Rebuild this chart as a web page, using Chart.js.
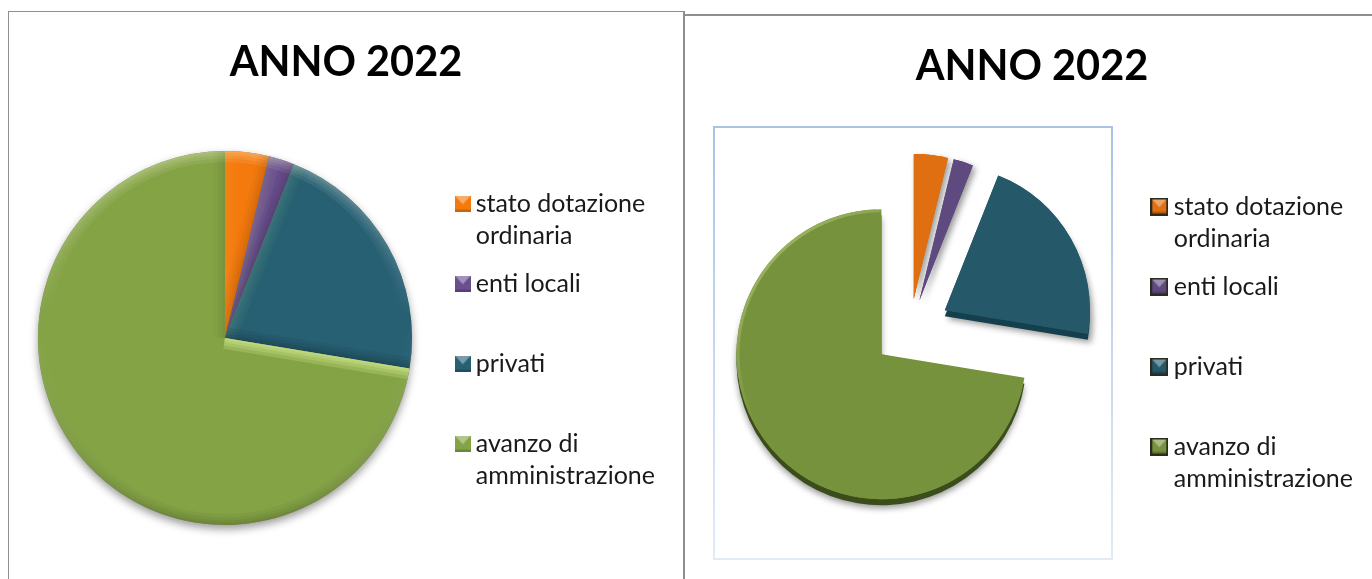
<!DOCTYPE html>
<html>
<head>
<meta charset="utf-8">
<title>ANNO 2022</title>
<script src="https://cdn.jsdelivr.net/npm/chart.js@4"></script>
<style>
  html, body { margin: 0; height: 100%; background: #fff; overflow: hidden; }
  canvas { position: absolute; }
  #left { left: 9px; top: 12px; }
  #right { left: 692px; top: 16px; }
  .rule { position: absolute; background: #8f8f8f; }
  #frame {
    position: absolute; left: 713px; top: 126px; width: 396px; height: 430px;
    border: 2px solid; border-image: linear-gradient(#a9c2e6, #e2eaf6) 1;
  }
</style>
</head>
<body>
<div class="rule" style="left:8px;top:11px;width:676px;height:1px"></div>
<div class="rule" style="left:8px;top:11px;width:1px;height:568px"></div>
<div class="rule" style="left:683px;top:11px;width:2px;height:568px"></div>
<div class="rule" style="left:685px;top:14px;width:687px;height:2px"></div>
<div id="frame"></div>
<canvas id="left" width="674" height="567"></canvas>
<canvas id="right" width="680" height="563"></canvas>
<script>
const titleText = 'ANNO 2022';
const categories = ['stato dotazione ordinaria', 'enti locali', 'privati', 'avanzo di amministrazione'];
const legendLines = [['stato dotazione', 'ordinaria'], ['enti locali', ''], ['privati', ''], ['avanzo di', 'amministrazione']];
const values = [3.8, 2.2, 21.6, 72.4];
const flatColors = ['#f57a0e', '#6a4f8f', '#276073', '#84a345'];
const explodedColors = ['#df6f10', '#5f4a80', '#25596a', '#76923c'];
const depthColors = ['#a9530c', '#46365f', '#143f4d', '#3c4d1c'];
const litStrength = [0.06, 0.06, 0.05, 0.24];

// an arc grows by offset * fix when Chart.js draws it, see ArcElement
function arcGrowth(arc, start, end) {
  const off = (arc.options.offset || 0) / 4;
  return off * (1 - Math.sin(Math.min(Math.PI, end - start)));
}

function slicePath(ctx, arc, dy) {
  const p = arc.getProps(['x', 'y', 'startAngle', 'endAngle', 'outerRadius'], true);
  const mid = (p.startAngle + p.endAngle) / 2;
  const off = (arc.options.offset || 0) / 4;
  const cx = p.x + Math.cos(mid) * off, cy = p.y + Math.sin(mid) * off + (dy || 0);
  const r = p.outerRadius + arcGrowth(arc, p.startAngle, p.endAngle);
  ctx.beginPath();
  ctx.moveTo(cx, cy);
  ctx.arc(cx, cy, r, p.startAngle, p.endAngle);
  ctx.closePath();
  return { cx, cy, r, start: p.startAngle, end: p.endAngle };
}

// soft band along one edge, clipped to the slice
function band(ctx, draw, style) {
  [22, 15, 9, 4].forEach(w => {
    ctx.lineWidth = w;
    ctx.strokeStyle = style;
    draw();
  });
}

function edgeStyle(nx, ny, k) {
  const lit = nx * -0.3 + ny * -0.95;
  const a = Math.abs(lit);
  return lit > 0 ? `rgba(225,250,160,${a * k})` : `rgba(0,0,0,${a * 0.06})`;
}

const bevelPlugin = {
  id: 'bevel',
  beforeDatasetsDraw(chart) {
    const ctx = chart.ctx;
    ctx.save();
    ctx.shadowColor = 'rgba(0,0,0,0.4)';
    ctx.shadowBlur = 8;
    ctx.shadowOffsetY = 4;
    ctx.fillStyle = '#888';
    chart.getDatasetMeta(0).data.forEach(arc => { slicePath(ctx, arc, 0); ctx.fill(); });
    ctx.restore();
  },
  afterDatasetsDraw(chart) {
    const ctx = chart.ctx;
    chart.getDatasetMeta(0).data.forEach((arc, i) => {
      ctx.save();
      const s = slicePath(ctx, arc, 0);
      ctx.clip();
      const g = ctx.createLinearGradient(0, s.cy - s.r, 0, s.cy + s.r);
      g.addColorStop(0, 'rgba(255,255,225,0.09)');
      g.addColorStop(0.45, 'rgba(255,255,255,0)');
      g.addColorStop(1, 'rgba(0,0,0,0.05)');
      band(ctx, () => { ctx.beginPath(); ctx.arc(s.cx, s.cy, s.r, s.start, s.end); ctx.stroke(); }, g);
      [[s.start, Math.sin(s.start), -Math.cos(s.start)], [s.end, -Math.sin(s.end), Math.cos(s.end)]].forEach(([a, nx, ny]) => {
        band(ctx, () => {
          ctx.beginPath();
          ctx.moveTo(s.cx, s.cy);
          ctx.lineTo(s.cx + Math.cos(a) * s.r, s.cy + Math.sin(a) * s.r);
          ctx.stroke();
        }, edgeStyle(nx, ny, litStrength[i]));
      });
      ctx.restore();
    });
  }
};

const extrudePlugin = {
  id: 'extrude',
  // same drawn radius for every slice, whatever its share of the growth
  afterDatasetsUpdate(chart, args, opts) {
    chart.getDatasetMeta(0).data.forEach(arc => {
      arc.outerRadius = opts.radius - arcGrowth(arc, arc.startAngle, arc.endAngle);
    });
  },
  beforeDatasetsDraw(chart) {
    const ctx = chart.ctx;
    chart.getDatasetMeta(0).data.forEach((arc, i) => {
      ctx.save();
      ctx.shadowColor = 'rgba(0,0,0,0.4)';
      ctx.shadowBlur = 6;
      ctx.shadowOffsetX = i === 3 ? 0 : 3;
      ctx.shadowOffsetY = 3;
      ctx.fillStyle = i < 2 ? explodedColors[i] : depthColors[i];
      // only the two large slices have a visible side wall
      slicePath(ctx, arc, i < 2 ? 0 : 6);
      ctx.fill();
      ctx.restore();
      // top face underlay, keeps the straight edges clean over the wall
      ctx.fillStyle = explodedColors[i];
      slicePath(ctx, arc, 0);
      ctx.fill();
    });
  },
  afterDatasetsDraw(chart) {
    const ctx = chart.ctx;
    const arc = chart.getDatasetMeta(0).data[3];
    ctx.save();
    const s = slicePath(ctx, arc, 0);
    ctx.clip();
    const g = ctx.createLinearGradient(s.cx - s.r, s.cy - s.r, s.cx, s.cy);
    g.addColorStop(0, 'rgba(225,245,170,0.5)');
    g.addColorStop(0.8, 'rgba(225,245,170,0)');
    ctx.lineWidth = 6;
    ctx.strokeStyle = g;
    ctx.beginPath();
    ctx.arc(s.cx, s.cy, s.r, s.start, s.end);
    ctx.stroke();
    ctx.restore();
  }
};

// the plot box sets the pie centre, independent of legend and title
const placePlugin = {
  id: 'place',
  afterLayout(chart, args, opts) {
    const a = chart.chartArea;
    a.left = opts.cx - 100; a.right = opts.cx + 100;
    a.top = opts.cy - 100; a.bottom = opts.cy + 100;
    a.width = 200; a.height = 200;
    const l = chart.legend;
    l.left += opts.legendDx; l.right += opts.legendDx;
    l.top += opts.legendDy; l.bottom += opts.legendDy;
  }
};

function legendSwatch(color, bordered) {
  const size = bordered ? 18 : 16;
  const c = document.createElement('canvas');
  c.width = c.height = size;
  const x = c.getContext('2d');
  x.fillStyle = bordered ? '#2b2b1e' : color;
  x.fillRect(0, 0, size, size);
  const b = bordered ? 2 : 0, s = size - 2 * b;
  x.fillStyle = color;
  x.fillRect(b, b, s, s);
  x.fillStyle = 'rgba(255,255,255,0.38)';
  x.beginPath(); x.moveTo(b, b); x.lineTo(b + s, b); x.lineTo(b + s / 2, b + s * 0.55); x.closePath(); x.fill();
  x.fillStyle = 'rgba(0,0,0,0.18)';
  x.fillRect(b, b + s - 2, s, 2);
  return c;
}

function makePie(id, colors, offsets, radius, plugin, place, bordered, boxWidth, titleTop) {
  const swatches = colors.map(c => legendSwatch(c, bordered));
  return new Chart(document.getElementById(id), {
    type: 'pie',
    data: {
      labels: categories,
      datasets: [{ data: values, backgroundColor: colors, borderWidth: 0, offset: offsets }]
    },
    options: {
      responsive: false,
      animation: false,
      radius: radius,
      plugins: {
        tooltip: { enabled: false },
        place: place,
        extrude: { radius: radius },
        title: {
          display: true,
          text: titleText,
          color: '#000',
          font: { family: 'Lato', size: 41.5, weight: 'bold', lineHeight: 1.2 },
          padding: { top: titleTop, bottom: 20 }
        },
        legend: {
          position: 'right',
          labels: {
            color: '#1a1a1a',
            font: { family: 'Lato', size: 25, lineHeight: 1.3 },
            padding: 15,
            usePointStyle: true,
            boxWidth: boxWidth,
            generateLabels: () => legendLines.map((t, i) => ({
              text: t,
              fontColor: '#1a1a1a',
              pointStyle: swatches[i],
              lineWidth: 0,
              hidden: false,
              index: i
            }))
          }
        }
      }
    },
    plugins: [plugin, placePlugin]
  });
}

makePie('left', flatColors, [0, 0, 0, 0], 187, bevelPlugin, { cx: 216, cy: 326, legendDx: -18, legendDy: 48 }, false, 1, 26);
makePie('right', explodedColors, [125, 125, 160, 150], 145, extrudePlugin, { cx: 218, cy: 314, legendDx: -9, legendDy: 49 }, true, 4, 26);
</script>
</body>
</html>
